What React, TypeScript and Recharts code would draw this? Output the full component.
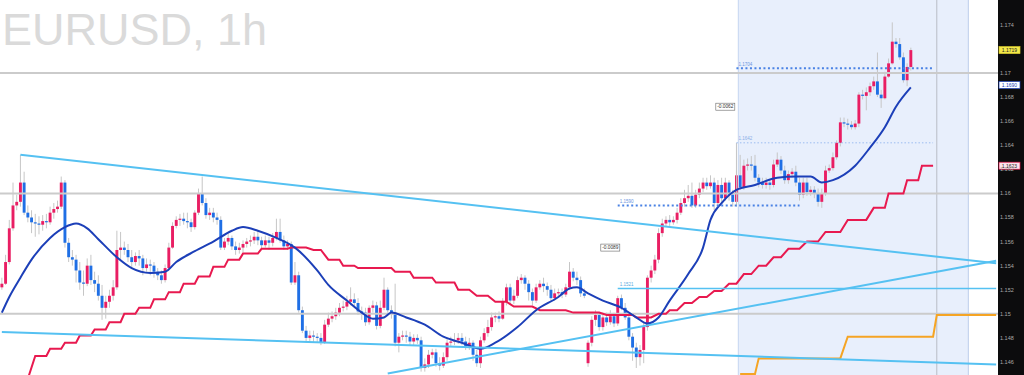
import {
  Bar,
  ComposedChart,
  Line,
  ReferenceArea,
  ReferenceDot,
  ReferenceLine,
  XAxis,
  YAxis,
} from "recharts";

const W = 1024;
const H = 375;
const AXIS_W = 26;

// Candle colours (TradingView style pink/blue) and indicator colours.
const PINK = "#e91e63";
const BLUE = "#1f6fe5";
const WICK = "#c6c6c6";
const MA_BLUE = "#1c3fb8";
const STEP_RED = "#e8194f";
const ORANGE = "#f5a424";
const CYAN = "#55c1f2";
const DOT_BLUE = "#4a82e4";
const SCALE_BG = "#0c0c0d";

// Hourly EURUSD candles, oldest first.
const OPEN = [
  1.1522, 1.1525, 1.1543, 1.1571, 1.159, 1.1593, 1.1609, 1.1584, 1.158, 1.1576,
  1.1575, 1.1574, 1.1577, 1.1576, 1.1584, 1.1587, 1.1589, 1.1609, 1.1559, 1.1547,
  1.1545, 1.1536, 1.1526, 1.1525, 1.154, 1.1528, 1.1525, 1.1515, 1.1505, 1.151,
  1.1515, 1.1522, 1.1553, 1.1555, 1.1553, 1.1547, 1.1543, 1.1548, 1.1546, 1.1538,
  1.1541, 1.154, 1.1535, 1.1532, 1.1528, 1.1538, 1.1555, 1.1573, 1.1578, 1.1579,
  1.1577, 1.1576, 1.1572, 1.1584, 1.16, 1.1592, 1.1582, 1.1584, 1.158, 1.1578,
  1.1555, 1.156, 1.1563, 1.1556, 1.1553, 1.1555, 1.1558, 1.156, 1.1561, 1.1564,
  1.1561, 1.1557, 1.1561, 1.1559, 1.1563, 1.1568, 1.1561, 1.1556, 1.1558, 1.1526,
  1.1532, 1.1503, 1.1486, 1.148, 1.1482, 1.1481, 1.148, 1.1476, 1.1491, 1.1496,
  1.1498, 1.1501, 1.1505, 1.1506, 1.151, 1.1512, 1.1509, 1.1502, 1.1501, 1.1493,
  1.1505, 1.1507, 1.149, 1.1505, 1.152, 1.1503, 1.1501, 1.1476, 1.1481, 1.1482,
  1.1481, 1.1477, 1.148, 1.1478, 1.1455, 1.1458, 1.1466, 1.1468, 1.1459, 1.1457,
  1.1464, 1.1476, 1.1477, 1.1478, 1.148, 1.1477, 1.1473, 1.1476, 1.1466, 1.1459,
  1.1478, 1.1484, 1.1489, 1.1497, 1.1498, 1.1496, 1.151, 1.1522, 1.1511, 1.1515,
  1.1528, 1.153, 1.1525, 1.1518, 1.1511, 1.1522, 1.1525, 1.1523, 1.152, 1.1513,
  1.1517, 1.1518, 1.1516, 1.1522, 1.1535, 1.153, 1.1528, 1.1517, 1.1459, 1.1476,
  1.1495, 1.1499, 1.1489, 1.1497, 1.1493, 1.1498, 1.1492, 1.1513, 1.1505, 1.1497,
  1.1481, 1.1472, 1.1464, 1.147, 1.1489, 1.153, 1.1536, 1.1545, 1.1567, 1.1575,
  1.1578, 1.1576, 1.1578, 1.1584, 1.1592, 1.1596, 1.1598, 1.159, 1.1599, 1.1604,
  1.1609, 1.1606, 1.1609, 1.1592, 1.1607, 1.1596, 1.1609, 1.1599, 1.1593, 1.1615,
  1.1605, 1.1623, 1.1624, 1.1623, 1.1613, 1.1609, 1.1607, 1.1609, 1.1607, 1.1624,
  1.1628, 1.1619, 1.1611, 1.1616, 1.1618, 1.1609, 1.1599, 1.1609, 1.1601, 1.1603,
  1.16, 1.1593, 1.16, 1.1619, 1.1621, 1.163, 1.1642, 1.1659, 1.1658, 1.1657,
  1.1655, 1.1658, 1.1682, 1.1681, 1.1684, 1.1689, 1.1693, 1.1682, 1.1679, 1.1697,
  1.1708, 1.1726, 1.1724, 1.1713, 1.1694, 1.1705,
];

const HIGH = [
  1.153, 1.1549, 1.1578, 1.1609, 1.1599, 1.1632, 1.1618, 1.159, 1.1586, 1.1583,
  1.1581, 1.1582, 1.1583, 1.1589, 1.1592, 1.1594, 1.1614, 1.1611, 1.1563, 1.1553,
  1.1549, 1.1543, 1.1536, 1.1546, 1.1549, 1.1535, 1.1532, 1.1524, 1.1515, 1.152,
  1.1528, 1.1569, 1.1568, 1.156, 1.1558, 1.1553, 1.1551, 1.1553, 1.1549, 1.1546,
  1.1545, 1.1543, 1.1538, 1.1536, 1.1541, 1.1559, 1.1576, 1.1581, 1.1583, 1.1584,
  1.1584, 1.1579, 1.1586, 1.1604, 1.1614, 1.1596, 1.1588, 1.1588, 1.1584, 1.1581,
  1.1563, 1.1567, 1.1565, 1.156, 1.1559, 1.1561, 1.1563, 1.1565, 1.1568, 1.1569,
  1.1564, 1.1565, 1.1564, 1.1567, 1.1579, 1.1579, 1.1565, 1.1561, 1.156, 1.1543,
  1.1535, 1.1506, 1.149, 1.1486, 1.1486, 1.1484, 1.1484, 1.1495, 1.1501, 1.1502,
  1.1505, 1.1509, 1.1511, 1.1515, 1.1522, 1.1517, 1.1513, 1.1506, 1.1505, 1.1507,
  1.1511, 1.151, 1.1511, 1.153, 1.1522, 1.1507, 1.1525, 1.1484, 1.1486, 1.1486,
  1.1485, 1.1483, 1.1483, 1.1481, 1.1463, 1.147, 1.1471, 1.1471, 1.1464, 1.1468,
  1.148, 1.1481, 1.1484, 1.1484, 1.1484, 1.1481, 1.148, 1.1478, 1.147, 1.1481,
  1.1488, 1.1495, 1.1501, 1.1501, 1.1502, 1.1513, 1.1525, 1.1525, 1.152, 1.1531,
  1.1533, 1.1532, 1.1528, 1.1521, 1.1525, 1.1528, 1.153, 1.1526, 1.1524, 1.1521,
  1.1521, 1.1521, 1.1525, 1.1543, 1.1538, 1.1535, 1.1531, 1.1521, 1.1478, 1.1498,
  1.1503, 1.1501, 1.1501, 1.1501, 1.1503, 1.1501, 1.1515, 1.1516, 1.1509, 1.1501,
  1.1484, 1.1476, 1.1474, 1.1493, 1.1532, 1.154, 1.1549, 1.1571, 1.1579, 1.1581,
  1.1582, 1.1581, 1.1588, 1.1596, 1.1603, 1.1607, 1.1609, 1.1603, 1.1609, 1.1613,
  1.1613, 1.1615, 1.1613, 1.1611, 1.1613, 1.1613, 1.1611, 1.1603, 1.1619, 1.1632,
  1.1628, 1.1629, 1.1631, 1.1632, 1.1616, 1.1613, 1.1613, 1.1612, 1.1628, 1.1634,
  1.1631, 1.1623, 1.1619, 1.1621, 1.1623, 1.1613, 1.1613, 1.1613, 1.1606, 1.1606,
  1.1604, 1.1604, 1.1623, 1.1624, 1.1634, 1.1644, 1.1663, 1.1663, 1.1662, 1.166,
  1.1661, 1.1684, 1.1686, 1.1688, 1.1692, 1.1697, 1.1717, 1.1686, 1.1701, 1.1712,
  1.1742, 1.1729, 1.1729, 1.1717, 1.1708, 1.1721,
];

const LOW = [
  1.152, 1.1524, 1.1541, 1.1569, 1.1586, 1.1589, 1.1582, 1.1576, 1.1567, 1.1564,
  1.1566, 1.1569, 1.1571, 1.1574, 1.1579, 1.1584, 1.1587, 1.1555, 1.1543, 1.154,
  1.1526, 1.152, 1.1515, 1.1523, 1.1524, 1.1518, 1.1511, 1.1495, 1.1496, 1.1505,
  1.1511, 1.152, 1.1545, 1.1549, 1.1543, 1.1538, 1.154, 1.154, 1.1532, 1.1535,
  1.1532, 1.153, 1.1528, 1.1525, 1.1526, 1.1536, 1.1554, 1.1571, 1.1573, 1.1574,
  1.1571, 1.1568, 1.157, 1.1582, 1.159, 1.1579, 1.1578, 1.1576, 1.1574, 1.1553,
  1.1553, 1.1557, 1.1553, 1.1549, 1.155, 1.1551, 1.1555, 1.1556, 1.1558, 1.1557,
  1.1553, 1.1555, 1.1553, 1.1556, 1.1561, 1.1559, 1.1553, 1.1553, 1.1524, 1.1524,
  1.1501, 1.1484, 1.1476, 1.1476, 1.1476, 1.1476, 1.1474, 1.1475, 1.1489, 1.1493,
  1.1495, 1.1498, 1.1502, 1.1503, 1.1507, 1.1505, 1.1499, 1.1495, 1.149, 1.1491,
  1.1501, 1.1487, 1.1488, 1.1503, 1.1501, 1.1496, 1.1473, 1.1468, 1.1478, 1.1476,
  1.1474, 1.1474, 1.1475, 1.1452, 1.1452, 1.1455, 1.1463, 1.1456, 1.1453, 1.1455,
  1.1461, 1.1473, 1.1474, 1.1475, 1.1474, 1.147, 1.147, 1.1461, 1.1456, 1.1455,
  1.1476, 1.1481, 1.1486, 1.1493, 1.1493, 1.1495, 1.1507, 1.1508, 1.1508, 1.1513,
  1.1525, 1.152, 1.1511, 1.1507, 1.1509, 1.152, 1.1518, 1.1515, 1.151, 1.1511,
  1.1514, 1.1513, 1.1514, 1.152, 1.1527, 1.1524, 1.1514, 1.1513, 1.1456, 1.1473,
  1.149, 1.1486, 1.1486, 1.149, 1.1491, 1.1489, 1.149, 1.1503, 1.1495, 1.1478,
  1.1461, 1.1455, 1.1457, 1.1459, 1.1486, 1.1526, 1.1533, 1.1542, 1.1564, 1.1573,
  1.1573, 1.1574, 1.1575, 1.1582, 1.1589, 1.1593, 1.1588, 1.1588, 1.1596, 1.1601,
  1.1603, 1.1604, 1.1586, 1.1589, 1.1593, 1.1594, 1.1594, 1.1589, 1.1589, 1.1603,
  1.1603, 1.1619, 1.1619, 1.161, 1.1605, 1.1604, 1.1604, 1.1603, 1.1605, 1.1622,
  1.1616, 1.1608, 1.1608, 1.1613, 1.1606, 1.1594, 1.1596, 1.1598, 1.1598, 1.1596,
  1.1589, 1.1588, 1.1598, 1.1617, 1.1619, 1.1628, 1.1639, 1.1655, 1.1653, 1.1653,
  1.1653, 1.1655, 1.1678, 1.1669, 1.1681, 1.1686, 1.168, 1.1671, 1.1678, 1.1696,
  1.1707, 1.1721, 1.1711, 1.1692, 1.1689, 1.1702,
];

const CLOSE = [
  1.1525, 1.1543, 1.1571, 1.159, 1.1593, 1.1609, 1.1584, 1.158, 1.1576, 1.1575,
  1.1574, 1.1577, 1.1576, 1.1584, 1.1587, 1.1589, 1.1609, 1.1559, 1.1547, 1.1545,
  1.1536, 1.1526, 1.1525, 1.154, 1.1528, 1.1525, 1.1515, 1.1505, 1.151, 1.1515,
  1.1522, 1.1553, 1.1555, 1.1553, 1.1547, 1.1543, 1.1548, 1.1546, 1.1538, 1.1541,
  1.154, 1.1535, 1.1532, 1.1528, 1.1538, 1.1555, 1.1573, 1.1578, 1.1579, 1.1577,
  1.1576, 1.1572, 1.1584, 1.16, 1.1592, 1.1582, 1.1584, 1.158, 1.1578, 1.1555,
  1.156, 1.1563, 1.1556, 1.1553, 1.1555, 1.1558, 1.156, 1.1561, 1.1564, 1.1561,
  1.1557, 1.1561, 1.1559, 1.1563, 1.1568, 1.1561, 1.1556, 1.1558, 1.1526, 1.1532,
  1.1503, 1.1486, 1.148, 1.1482, 1.1481, 1.148, 1.1476, 1.1491, 1.1496, 1.1498,
  1.1501, 1.1505, 1.1506, 1.151, 1.1512, 1.1509, 1.1502, 1.1501, 1.1493, 1.1505,
  1.1507, 1.149, 1.1505, 1.152, 1.1503, 1.1501, 1.1476, 1.1481, 1.1482, 1.1481,
  1.1477, 1.148, 1.1478, 1.1455, 1.1458, 1.1466, 1.1468, 1.1459, 1.1457, 1.1464,
  1.1476, 1.1477, 1.1478, 1.148, 1.1477, 1.1473, 1.1476, 1.1466, 1.1459, 1.1478,
  1.1484, 1.1489, 1.1497, 1.1498, 1.1496, 1.151, 1.1522, 1.1511, 1.1515, 1.1528,
  1.153, 1.1525, 1.1518, 1.1511, 1.1522, 1.1525, 1.1523, 1.152, 1.1513, 1.1517,
  1.1518, 1.1516, 1.1522, 1.1535, 1.153, 1.1528, 1.1517, 1.1515, 1.1476, 1.1495,
  1.1499, 1.1489, 1.1497, 1.1493, 1.1498, 1.1492, 1.1513, 1.1505, 1.1497, 1.1481,
  1.1472, 1.1464, 1.147, 1.1489, 1.153, 1.1536, 1.1545, 1.1567, 1.1575, 1.1578,
  1.1576, 1.1578, 1.1584, 1.1592, 1.1596, 1.1598, 1.159, 1.1599, 1.1604, 1.1609,
  1.1606, 1.1609, 1.1592, 1.1607, 1.1596, 1.1609, 1.1599, 1.1593, 1.1615, 1.1605,
  1.1623, 1.1624, 1.1623, 1.1613, 1.1609, 1.1607, 1.1609, 1.1607, 1.1624, 1.1628,
  1.1619, 1.1611, 1.1616, 1.1618, 1.1609, 1.1599, 1.1609, 1.1601, 1.1603, 1.16,
  1.1593, 1.16, 1.1619, 1.1621, 1.163, 1.1642, 1.1659, 1.1658, 1.1657, 1.1655,
  1.1658, 1.1682, 1.1681, 1.1684, 1.1689, 1.1693, 1.1682, 1.1679, 1.1697, 1.1708,
  1.1726, 1.1724, 1.1713, 1.1694, 1.1705, 1.1719,
];

// Empty bars to the right of the last candle (chart's right margin).
const FUTURE_SLOTS = 23;

// Moving average, read at [bar index, price].
const MA_POINTS: [number, number][] = [
  [0, 1.1501], [2, 1.1514], [5, 1.153], [8, 1.1545], [13, 1.1563], [17, 1.1572],
  [20, 1.1575], [23, 1.1571], [26, 1.1562], [31, 1.1547], [35, 1.1538], [40, 1.1534],
  [44, 1.1535], [47, 1.1543], [52, 1.1552], [57, 1.156], [62, 1.1569], [65, 1.1572],
  [69, 1.1569], [74, 1.1563], [79, 1.1555], [85, 1.1536], [88, 1.1524], [93, 1.1511],
  [97, 1.1501], [100, 1.1496], [103, 1.1497], [105, 1.1501], [109, 1.1497], [114, 1.1491],
  [119, 1.1481], [124, 1.1476], [129, 1.1471], [133, 1.1476], [139, 1.1489], [144, 1.1503],
  [150, 1.1514], [153, 1.1521], [155, 1.1522], [158, 1.1517], [162, 1.1511], [167, 1.1505],
  [171, 1.1497], [174, 1.1492], [177, 1.1497], [180, 1.1511], [185, 1.1533], [189, 1.1555],
  [191, 1.1578], [194, 1.1592], [198, 1.1603], [203, 1.1607], [209, 1.1613], [214, 1.1614],
  [218, 1.1614], [221, 1.1609], [224, 1.1611], [230, 1.1623], [234, 1.1638], [238, 1.1655],
  [241, 1.1672], [245, 1.1688],
];

// Higher-timeframe average drawn as a staircase: [first bar, last bar, level].
const RED_STEPS: [number, number, number][] = [
  [7, 7, 1.1446], [9, 12, 1.1465], [13, 16, 1.1471], [17, 20, 1.1476], [21, 24, 1.1482],
  [25, 28, 1.1487], [29, 32, 1.1493], [33, 36, 1.15], [37, 40, 1.1505], [41, 44, 1.1512],
  [45, 48, 1.1518], [49, 52, 1.1525], [53, 56, 1.1531], [57, 60, 1.1539], [61, 64, 1.1545],
  [65, 69, 1.155], [70, 77, 1.1554], [78, 82, 1.1555], [84, 86, 1.1553], [88, 91, 1.1545],
  [92, 95, 1.154], [96, 105, 1.1538], [106, 110, 1.1535], [111, 116, 1.153], [117, 122, 1.1526],
  [123, 126, 1.152], [128, 131, 1.1515], [133, 136, 1.151], [138, 143, 1.1506], [145, 152, 1.1503],
  [154, 161, 1.1501], [163, 170, 1.1499], [171, 175, 1.1497], [177, 179, 1.15], [180, 182, 1.1503],
  [184, 186, 1.1509], [188, 190, 1.1514], [192, 194, 1.1519], [196, 198, 1.1525], [200, 202, 1.1533],
  [204, 206, 1.154], [208, 210, 1.1547], [212, 215, 1.1554], [217, 220, 1.156], [222, 226, 1.1568],
  [228, 233, 1.1578], [235, 238, 1.1588], [239, 243, 1.16], [244, 247, 1.1611], [248, 251, 1.1623],
];

// Daily level staircase (orange).
const ORANGE_STEPS: [number, number, number][] = [
  [199, 203, 1.145], [204, 226, 1.1463], [228, 251, 1.1481], [252, 268, 1.1499],
];

// 1.172 sits under the yellow last-price tag, as on the original.
const PRICE_TICKS = [
  1.146, 1.148, 1.15, 1.152, 1.154, 1.156, 1.158, 1.16, 1.162, 1.164, 1.166, 1.168,
  1.17, 1.174,
];
const ROUND_LEVELS = [1.15, 1.16, 1.17];

type Row = {
  i: number;
  o: number | null;
  h: number | null;
  l: number | null;
  c: number | null;
  ma: number | null;
  red: number | null;
  orange: number | null;
};

const rows: Row[] = Array.from({ length: OPEN.length + FUTURE_SLOTS }, (_, i) => ({
  i,
  o: OPEN[i] ?? null,
  h: HIGH[i] ?? null,
  l: LOW[i] ?? null,
  c: CLOSE[i] ?? null,
  ma: null,
  red: null,
  orange: null,
}));
MA_POINTS.forEach(([i, v]) => (rows[i].ma = v));
RED_STEPS.forEach(([a, b, v]) => {
  rows[a].red = v;
  rows[b].red = v;
});
ORANGE_STEPS.forEach(([a, b, v]) => {
  rows[a].orange = v;
  rows[b].orange = v;
});

function Candle(props: any) {
  const { x, y, width, height, payload } = props;
  if (!payload || payload.o == null) return null;
  const { o, h, l, c } = payload as { o: number; h: number; l: number; c: number };
  const top = Math.min(y, y + height);
  const span = Math.abs(height);
  const k = h > l ? span / (h - l) : 0;
  const cx = x + width / 2;
  const bodyTop = top + (h - Math.max(o, c)) * k;
  const bodyH = Math.max(1, Math.abs(o - c) * k);
  return (
    <g>
      <line x1={cx} x2={cx} y1={top} y2={top + span} stroke={WICK} strokeWidth={1} />
      <rect x={cx - 1.45} y={bodyTop} width={2.9} height={bodyH} fill={c >= o ? PINK : BLUE} />
    </g>
  );
}

function PriceTick(props: any) {
  const { x, y, payload } = props;
  return (
    <text x={x} y={y + 2} fontSize={5.5} fill="#a9a9a9" textAnchor="start">
      {String(Number(Number(payload.value).toFixed(3)))}
    </text>
  );
}

// Price tag sitting on the axis strip.
function axisTag(text: string, bg: string, border: string, color: string) {
  return (props: any) => {
    const vb = props.viewBox || {};
    const x = (vb.x ?? 0) + (vb.width ?? 0) + 1;
    const y = vb.y ?? 0;
    return (
      <g>
        <rect x={x} y={y - 3.5} width={21} height={7} fill={bg} stroke={border} strokeWidth={0.7} />
        <text x={x + 10.5} y={y + 1.8} fontSize={5} textAnchor="middle" fill={color}>
          {text}
        </text>
      </g>
    );
  };
}

// Small level caption above the left end of a dotted line.
function levelCaption(text: string, color: string) {
  return (props: any) => {
    const vb = props.viewBox || {};
    return (
      <text x={(vb.x ?? 0) + 2} y={(vb.y ?? 0) - 2.5} fontSize={4.5} fill={color}>
        {text}
      </text>
    );
  };
}

function measureBox(text: string) {
  return (props: any) => {
    const { cx, cy } = props;
    return (
      <g>
        <rect x={cx - 9.5} y={cy - 3.5} width={19} height={7} fill="#fff" stroke="#666" strokeWidth={0.6} />
        <text x={cx} y={cy + 1.7} fontSize={4.8} textAnchor="middle" fill="#333">
          {text}
        </text>
      </g>
    );
  };
}

export default function App() {
  const last = rows.length - 1;
  return (
    <div
      style={{
        position: "absolute",
        left: 0,
        top: 0,
        width: W,
        height: H,
        background: "#fff",
        overflow: "hidden",
        fontFamily: "'Liberation Sans', Arial, sans-serif",
      }}
    >
      {/* price-scale strip, behind the chart's tick labels */}
      <div
        style={{ position: "absolute", left: W - AXIS_W, top: 0, width: AXIS_W, height: H, background: SCALE_BG }}
      />
      <div
        style={{
          position: "absolute",
          left: 2,
          top: 7,
          fontSize: 45,
          lineHeight: "45px",
          color: "#dadada",
          whiteSpace: "nowrap",
        }}
      >
        EURUSD, 1h
      </div>
      <div style={{ position: "absolute", left: 0, top: 0 }}>
        <ComposedChart width={W} height={H} data={rows} margin={{ top: 0, right: 0, bottom: 0, left: 0 }}>
          <XAxis dataKey="i" hide />
          <YAxis
            orientation="right"
            width={AXIS_W}
            domain={[1.14492, 1.17606]}
            allowDataOverflow
            ticks={PRICE_TICKS}
            interval={0}
            axisLine={false}
            tickLine={false}
            tickSize={0}
            tickMargin={2}
            tick={<PriceTick />}
          />

          <ReferenceArea x1={199} x2={260} fill="#e8effc" fillOpacity={1} stroke="none" />
          <ReferenceLine x={199} position="start" stroke="#c5d5f1" strokeWidth={1} />
          <ReferenceLine x={260} position="end" stroke="#bccdeb" strokeWidth={1} />
          <ReferenceLine x={252} stroke="#b8bcc6" strokeWidth={1} />
          {ROUND_LEVELS.map((v) => (
            <ReferenceLine key={v} y={v} stroke="#cbcbcb" strokeWidth={2} />
          ))}

          <ReferenceLine
            segment={[{ x: 198, y: 1.1642 }, { x: 198, y: 1.159 }]}
            stroke="#c4c4c4"
            strokeWidth={1}
          />
          <ReferenceLine
            segment={[{ x: 198, y: 1.1642 }, { x: 251, y: 1.1642 }]}
            stroke="#9bbcf0"
            strokeWidth={1}
            strokeDasharray="1.5 2"
            label={levelCaption("1.1642", "#8aaee8")}
          />

          <Bar dataKey={(d: Row) => (d.o == null ? null : [d.l, d.h])} shape={Candle} isAnimationActive={false} />

          <Line
            dataKey="red"
            type="linear"
            stroke={STEP_RED}
            strokeWidth={2}
            dot={false}
            activeDot={false}
            connectNulls
            isAnimationActive={false}
          />
          <Line
            dataKey="orange"
            type="linear"
            stroke={ORANGE}
            strokeWidth={2}
            dot={false}
            activeDot={false}
            connectNulls
            isAnimationActive={false}
          />
          <Line
            dataKey="ma"
            type="monotone"
            stroke={MA_BLUE}
            strokeWidth={2}
            dot={false}
            activeDot={false}
            connectNulls
            isAnimationActive={false}
          />

          {/* trend lines */}
          <ReferenceLine segment={[{ x: 5, y: 1.1632 }, { x: last, y: 1.1542 }]} stroke={CYAN} strokeWidth={2} />
          <ReferenceLine segment={[{ x: 104, y: 1.14505 }, { x: last, y: 1.1544 }]} stroke={CYAN} strokeWidth={2} />
          <ReferenceLine segment={[{ x: 0, y: 1.1485 }, { x: last, y: 1.1458 }]} stroke={CYAN} strokeWidth={2} />
          <ReferenceLine
            segment={[{ x: 166, y: 1.1521 }, { x: last, y: 1.1521 }]}
            stroke={CYAN}
            strokeWidth={1.5}
            label={levelCaption("1.1521", "#5aa9e0")}
          />

          {/* dotted measured levels */}
          <ReferenceLine
            segment={[{ x: 198, y: 1.1704 }, { x: 251, y: 1.1704 }]}
            stroke={DOT_BLUE}
            strokeWidth={2}
            strokeDasharray="2 2.5"
            label={levelCaption("1.1704", "#6a95e0")}
          />
          <ReferenceLine
            segment={[{ x: 166, y: 1.159 }, { x: 215, y: 1.159 }]}
            stroke={DOT_BLUE}
            strokeWidth={2}
            strokeDasharray="2 2.5"
            label={levelCaption("1.1590", "#6a95e0")}
          />

          <ReferenceDot x={195} y={1.1672} r={1} shape={measureBox("-0.0062")} />
          <ReferenceDot x={164} y={1.1555} r={1} shape={measureBox("-0.0089")} />

          {/* price tags on the axis */}
          <ReferenceLine y={1.1719} stroke="none" label={axisTag("1.1719", "#f3e84a", "#d8c92a", "#222")} />
          <ReferenceLine y={1.169} stroke="none" label={axisTag("1.1690", "#ffffff", MA_BLUE, MA_BLUE)} />
          <ReferenceLine y={1.1623} stroke="none" label={axisTag("1.1623", "#fde3ec", STEP_RED, "#222")} />
        </ComposedChart>
      </div>
    </div>
  );
}
